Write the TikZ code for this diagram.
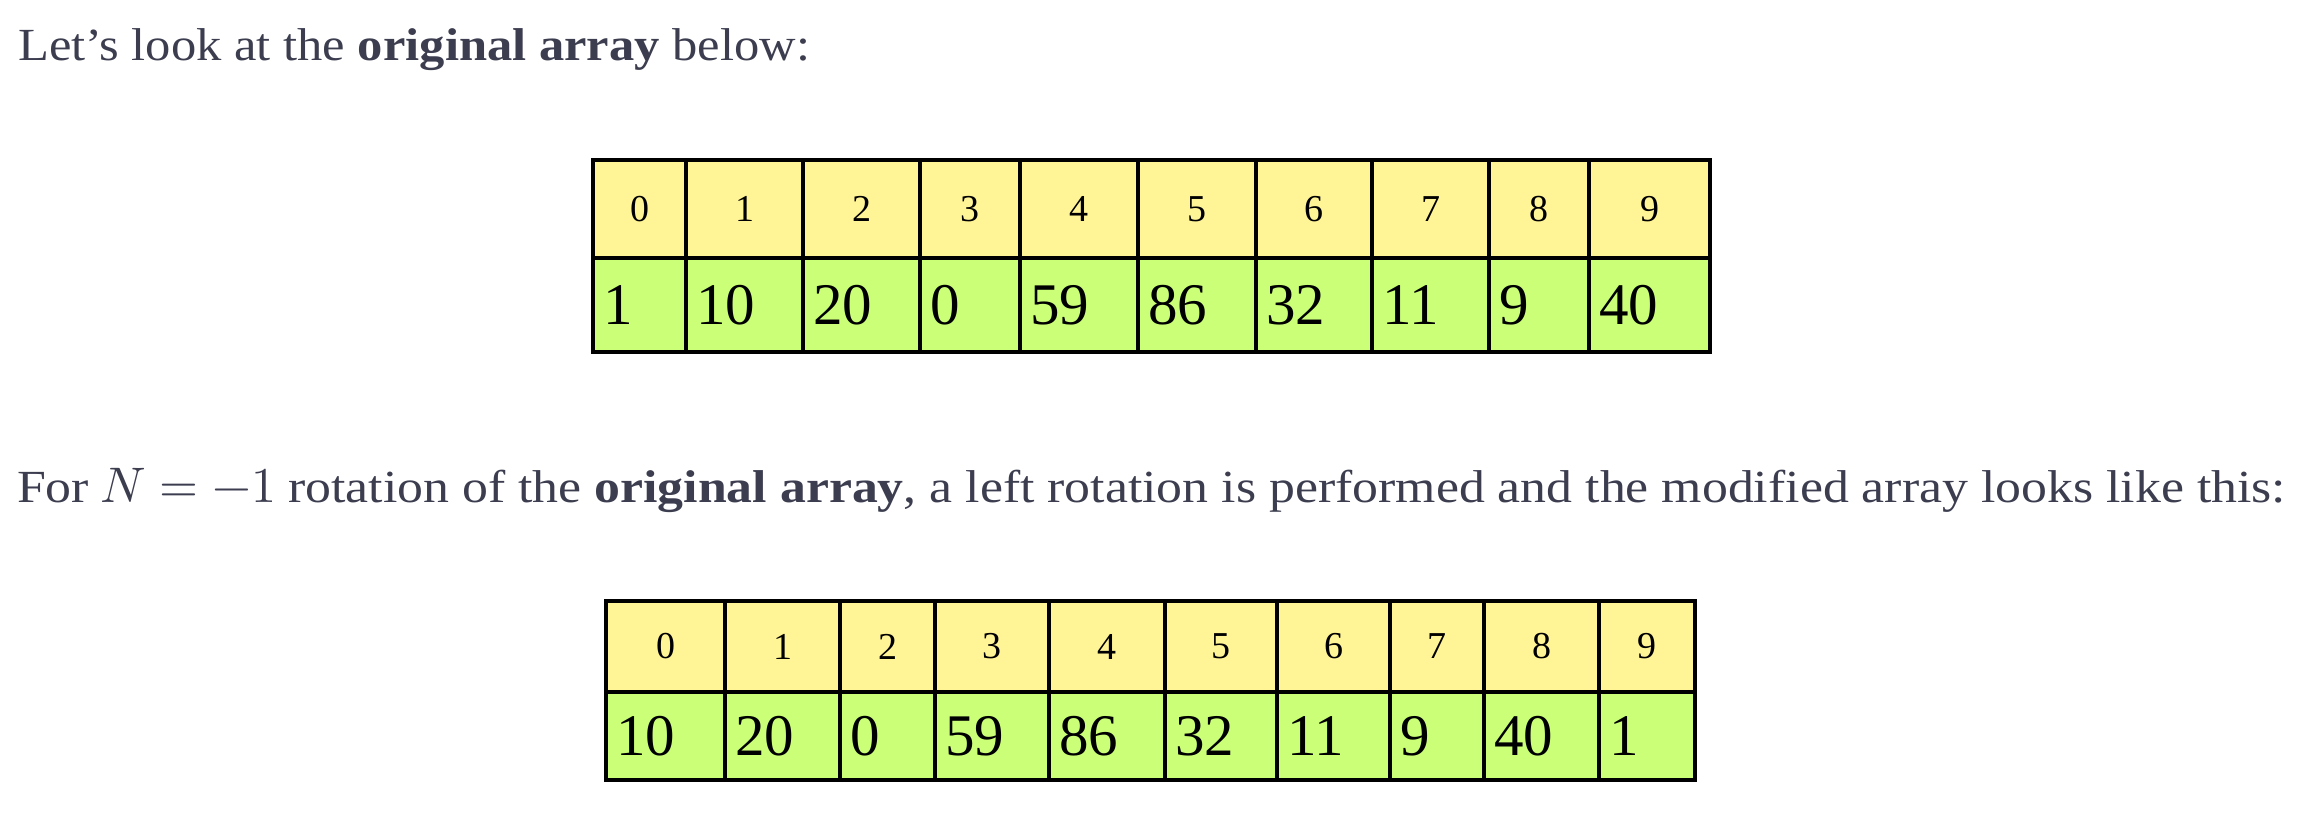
\documentclass[tikz,border=0pt]{standalone}
\usepackage{graphicx}
\usepackage{fontspec}
\usepackage{unicode-math}
\setmainfont{Liberation Serif}
\setmathfont{Latin Modern Math}
\definecolor{txt}{RGB}{60,62,80}
\definecolor{idxy}{RGB}{255,244,150}
\definecolor{valg}{RGB}{204,255,120}
\newcommand\sxa[1]{\scalebox{1.099}[1]{#1}}
\newcommand\sxb[1]{\scalebox{1.126}[1]{#1}}
\begin{document}
\begin{tikzpicture}[x=1pt,y=-1pt,
  idxcell/.style={draw=black, line width=3.5pt, fill=idxy, inner sep=0pt, text=black, font=\fontsize{38}{44}\selectfont},
  valcell/.style={draw=black, line width=3.5pt, fill=valg, inner xsep=10pt, inner ysep=0pt, text=black, align=left, font=\fontsize{59}{70}\selectfont},
  para/.style={anchor=base west, inner sep=0pt, text=txt, font=\fontsize{46}{55}\selectfont}]
\useasboundingbox (0,0) rectangle (2306,822);
\node[para] (t1) at (18,60) {\sxa{Let’s look at the \textbf{original array} below:}};
\node[para] (t2) at (17,502) {\sxb{For} {\fontsize{50}{55}\selectfont$N=-1$} \sxb{rotation of the \textbf{original array}, a left rotation is performed and the modified array looks like this:}};
% first array
\def\xa{593,686,803,920,1020,1138,1256,1372,1489,1589,1710}
\foreach \v [count=\k from 0] in {1,10,20,0,59,86,32,11,9,40} {
  \pgfmathsetmacro\l{{\xa}[\k]}
  \pgfmathsetmacro\r{{\xa}[\k+1]}
  \pgfmathsetmacro\w{\r-\l}
  \pgfmathsetmacro\tw{\w-20}
  \pgfmathsetmacro\c{(\l+\r)/2}
  \node[idxcell, minimum width=\w pt, minimum height=98pt] (a\k) at (\c,209) {\k};
  \node[valcell, minimum width=\w pt, text width=\tw pt, minimum height=94pt] (b\k) at (\c,305) {\v};
}
% second array
\def\xb{606,725,840,935,1049,1165,1277,1390,1484,1599,1695}
\foreach \v [count=\k from 0] in {10,20,0,59,86,32,11,9,40,1} {
  \pgfmathsetmacro\l{{\xb}[\k]}
  \pgfmathsetmacro\r{{\xb}[\k+1]}
  \pgfmathsetmacro\w{\r-\l}
  \pgfmathsetmacro\tw{\w-20}
  \pgfmathsetmacro\c{(\l+\r)/2}
  \node[idxcell, minimum width=\w pt, minimum height=91pt] (c\k) at (\c,646.5) {\k};
  \node[valcell, minimum width=\w pt, text width=\tw pt, minimum height=88pt] (d\k) at (\c,736) {\v};
}
\end{tikzpicture}
\end{document}
